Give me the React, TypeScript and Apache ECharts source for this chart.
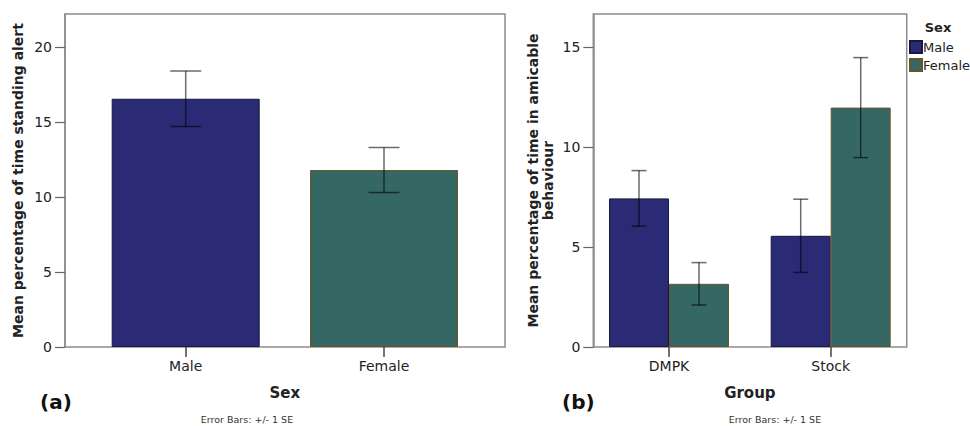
import { useEffect, useRef } from 'react';
import * as echarts from 'echarts';

// Panel (a): time standing alert by sex
const sexCategories = ['Male', 'Female'];
const alertMean = [16.55, 11.8];
const alertSE = [1.85, 1.5];

// Panel (b): time in amicable behaviour by group and sex
const groupCategories = ['DMPK', 'Stock'];
const amicableMale = [7.43, 5.56];
const amicableMaleSE = [1.39, 1.83];
const amicableFemale = [3.16, 11.97];
const amicableFemaleSE = [1.06, 2.5];

const yTicksA = [0, 5, 10, 15, 20];
const yTicksB = [0, 5, 10, 15];

const FONT = "'DejaVu Sans', Verdana, sans-serif";
const MALE_COLOR = '#2b2a74';
const FEMALE_COLOR = '#356865';
const MALE_BORDER = '#17173f';
const FEMALE_BORDER = '#6a5426';
const FRAME = '#8c8c8c';
const TEXT = '#222';
const ERR_STROKE = 'rgba(0,0,0,0.58)';

const errorData = (means: number[], se: number[]) =>
  means.map((m, i) => [i, m + se[i], m - se[i]]);

const errorBarRender =
  (offset: number, capWidth: number) => (_params: any, api: any) => {
    const cat = api.value(0);
    const hi = api.coord([cat, api.value(1)]);
    const lo = api.coord([cat, api.value(2)]);
    const x = hi[0] + offset;
    const half = capWidth / 2;
    const style = { stroke: ERR_STROKE, lineWidth: 1.5 };
    return {
      type: 'group',
      children: [
        { type: 'line', shape: { x1: x, y1: hi[1], x2: x, y2: lo[1] }, style },
        { type: 'line', shape: { x1: x - half, y1: hi[1], x2: x + half, y2: hi[1] }, style },
        { type: 'line', shape: { x1: x - half, y1: lo[1], x2: x + half, y2: lo[1] }, style },
      ],
    };
  };

const frameYAxis = (gridIndex: number, max: number, ticks: number[], name: string, nameGap: number) => ({
  gridIndex,
  type: 'value',
  min: 0,
  max,
  interval: 5,
  axisLine: { show: true, lineStyle: { color: FRAME, width: 1.5 } },
  axisTick: { show: true, length: 10, customValues: ticks, lineStyle: { color: '#666', width: 1.2 } },
  axisLabel: { customValues: ticks, margin: 13, fontSize: 14, color: TEXT, fontFamily: FONT },
  splitLine: { show: false },
  name,
  nameLocation: 'middle',
  nameGap,
  nameRotate: 90,
  nameTextStyle: { fontSize: 14, fontWeight: 'bold', color: TEXT, fontFamily: FONT, lineHeight: 15 },
});

const hiddenYAxis = (gridIndex: number, max: number) => ({
  gridIndex,
  type: 'value',
  min: 0,
  max,
  show: false,
});

const categoryXAxis = (gridIndex: number, data: string[], name: string) => ({
  gridIndex,
  type: 'category',
  data,
  axisLine: { show: false },
  axisTick: { show: true, alignWithLabel: true, length: 10, lineStyle: { color: '#444', width: 1.5 } },
  axisLabel: { margin: 12, fontSize: 14, color: TEXT, fontFamily: FONT },
  name,
  nameLocation: 'middle',
  nameGap: 38,
  nameTextStyle: { fontSize: 15, fontWeight: 'bold', color: TEXT, fontFamily: FONT },
});

const option = {
  animation: false,
  backgroundColor: '#fff',
  textStyle: { fontFamily: FONT },
  grid: [
    { left: 65, top: 14, width: 440, height: 333, show: true, borderColor: FRAME, borderWidth: 1.5, backgroundColor: 'transparent' },
    { left: 86.55, top: 14, width: 396.6, height: 333 },
    { left: 593.3, top: 14, width: 313.4, height: 333, show: true, borderColor: FRAME, borderWidth: 1.5, backgroundColor: 'transparent' },
    { left: 588.15, top: 14, width: 323.4, height: 333 },
  ],
  xAxis: [
    { gridIndex: 0, type: 'value', show: false },
    categoryXAxis(1, sexCategories, 'Sex'),
    { gridIndex: 2, type: 'value', show: false },
    categoryXAxis(3, groupCategories, 'Group'),
  ],
  yAxis: [
    frameYAxis(0, 22.2, yTicksA, 'Mean percentage of time standing alert', 40),
    hiddenYAxis(1, 22.2),
    frameYAxis(2, 16.65, yTicksB, 'Mean percentage of time in amicable\nbehaviour', 38),
    hiddenYAxis(3, 16.65),
  ],
  legend: {
    data: ['Male', 'Female'],
    orient: 'vertical',
    left: 909,
    top: 40,
    icon: 'rect',
    itemWidth: 12,
    itemHeight: 12,
    itemGap: 4,
    padding: 0,
    textStyle: { fontSize: 13, color: TEXT, fontFamily: FONT, padding: [0, 0, 0, -4] },
  },
  series: [
    {
      type: 'bar',
      name: 'Standing alert',
      xAxisIndex: 1,
      yAxisIndex: 1,
      barWidth: 148,
      data: alertMean.map((v, i) => ({
        value: v,
        itemStyle:
          i === 0
            ? { color: MALE_COLOR, borderColor: MALE_BORDER, borderWidth: 1 }
            : { color: FEMALE_COLOR, borderColor: FEMALE_BORDER, borderWidth: 1 },
      })),
    },
    {
      type: 'custom',
      name: 'Standing alert SE',
      xAxisIndex: 1,
      yAxisIndex: 1,
      z: 5,
      renderItem: errorBarRender(0, 31),
      encode: { x: 0, y: [1, 2] },
      data: errorData(alertMean, alertSE),
    },
    {
      type: 'bar',
      name: 'Male',
      xAxisIndex: 3,
      yAxisIndex: 3,
      barWidth: 60,
      barGap: '0%',
      itemStyle: { color: MALE_COLOR, borderColor: MALE_BORDER, borderWidth: 1 },
      data: amicableMale,
    },
    {
      type: 'bar',
      name: 'Female',
      xAxisIndex: 3,
      yAxisIndex: 3,
      barWidth: 60,
      barGap: '0%',
      itemStyle: { color: FEMALE_COLOR, borderColor: FEMALE_BORDER, borderWidth: 1 },
      data: amicableFemale,
    },
    {
      type: 'custom',
      name: 'Male SE',
      xAxisIndex: 3,
      yAxisIndex: 3,
      z: 5,
      renderItem: errorBarRender(-30, 15),
      encode: { x: 0, y: [1, 2] },
      data: errorData(amicableMale, amicableMaleSE),
    },
    {
      type: 'custom',
      name: 'Female SE',
      xAxisIndex: 3,
      yAxisIndex: 3,
      z: 5,
      renderItem: errorBarRender(30, 15),
      encode: { x: 0, y: [1, 2] },
      data: errorData(amicableFemale, amicableFemaleSE),
    },
  ],
  graphic: [
    {
      type: 'text',
      x: 40,
      y: 402,
      style: { text: '(a)', font: `bold 20px ${FONT}`, fill: '#111', verticalAlign: 'middle' },
    },
    {
      type: 'text',
      x: 562,
      y: 402,
      style: { text: '(b)', font: `bold 20px ${FONT}`, fill: '#111', verticalAlign: 'middle' },
    },
    {
      type: 'text',
      x: 247,
      y: 419,
      style: { text: 'Error Bars: +/- 1 SE', font: `9.5px ${FONT}`, fill: '#333', align: 'center', verticalAlign: 'middle' },
    },
    {
      type: 'text',
      x: 775,
      y: 419,
      style: { text: 'Error Bars: +/- 1 SE', font: `9.5px ${FONT}`, fill: '#333', align: 'center', verticalAlign: 'middle' },
    },
    {
      type: 'text',
      x: 938,
      y: 27,
      style: { text: 'Sex', font: `bold 13px ${FONT}`, fill: TEXT, align: 'center', verticalAlign: 'middle' },
    },
  ],
};

export default function App() {
  const ref = useRef<HTMLDivElement>(null);
  useEffect(() => {
    if (!ref.current) return;
    const chart = echarts.init(ref.current, null, { renderer: 'svg' });
    chart.setOption(option as any);
    return () => chart.dispose();
  }, []);
  return (
    <div
      ref={ref}
      style={{ position: 'fixed', left: 0, top: 0, width: 970, height: 426 }}
    />
  );
}
